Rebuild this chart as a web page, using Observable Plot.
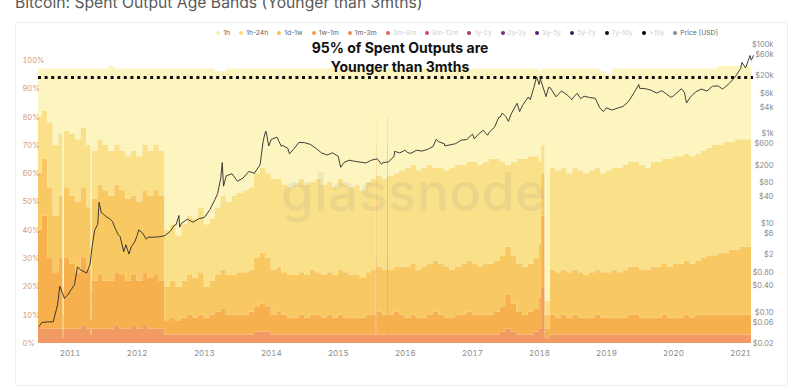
<!DOCTYPE html>
<html>
<head>
<meta charset="utf-8">
<script src="https://cdn.jsdelivr.net/npm/d3@7"></script>
<script src="https://cdn.jsdelivr.net/npm/@observablehq/plot@0.6"></script>
<style>
  body { margin: 0; background: #fff; font-family: Inter, "Noto Sans", sans-serif; }
  #wrap { position: relative; width: 800px; height: 389px; overflow: hidden; background: #fff; }
  .abs { position: absolute; left: 0; top: 0; }
  #title { position: absolute; left: 15px; top: -5px; font-size: 15.7px; line-height: 16px; color: #5a5a5a; white-space: nowrap; }
  #card { position: absolute; left: 15px; top: 22px; width: 771px; height: 362px; border: 1px solid #ededed; border-radius: 3px; }
  #legend { position: absolute; right: 82px; top: 29px; display: flex; gap: 9px; font-size: 6.8px; line-height: 8px; white-space: nowrap; }
  #legend .it { display: flex; align-items: center; gap: 3px; }
  #legend .dot { width: 4px; height: 4px; border-radius: 50%; }
  #watermark { position: absolute; left: 281px; top: 160px; font-size: 53px; font-weight: 500; color: rgba(140,140,140,0.13); letter-spacing: 0.5px; }
  #note { position: absolute; left: 250px; width: 300px; top: 38px; text-align: center; font-size: 14px; font-weight: 700; line-height: 19px; color: #111; }
</style>
</head>
<body>
<div id="wrap">
  <div id="title">Bitcoin: Spent Output Age Bands (Younger than 3mths)</div>
  <div id="card"></div>
  <div id="legend"></div>
  <div id="chart" class="abs"></div>
  <div id="watermark">glassnode</div>
  <div id="price" class="abs"></div>
  <div id="note">95% of Spent Outputs are<br>Younger than 3mths</div>
</div>
<script>
// ---------- data ----------
const bands = ["1m-3m", "1w-1m", "1d-1w", "1h-24h", "1h"]; // stacked bottom -> top
const bandColors = ["#f29a63", "#f7b04e", "#f8c862", "#f9e089", "#fcf5c0"];

const monthStart = "2010-07-01";
const monthEnd = "2021-04-01";   // exclusive; monthly rows Jul 2010 .. Mar 2021

// share (%) of spent outputs per band, one value per month
const share1m3m = [6,5,5,5,5,5,
  5,5,6,5,5,5,5,5,6,5,5,6,
  5,6,5,5,5,3,3,3,3,3,3,3,
  3,3,3,3,3,3,3,3,3,4,4,4,
  3,3,3,3,3,3,3,3,3,3,3,3,
  3,3,3,3,3,3,3,3,3,3,3,3,
  3,3,3,3,3,3,3,3,3,3,3,3,
  3,3,3,3,3,4,5,4,3,3,3,4,
  5,2,3,3,3,3,3,3,3,3,3,3,
  3,3,3,3,3,3,3,3,3,3,3,3,
  3,3,3,3,3,3,3,3,3,3,3,3,
  3,3,3];
const share1w1m = [34,40,25,20,25,25,
  23,20,24,21,17,19,17,17,19,19,17,18,
  17,19,18,19,17,5,6,5,6,7,6,7,
  6,7,8,9,7,7,7,7,8,9,10,9,
  7,8,7,6,6,7,6,7,7,6,7,6,
  7,6,6,6,6,7,7,8,7,7,8,7,
  6,7,6,6,7,8,7,6,6,7,7,8,
  7,7,7,7,8,9,12,10,8,7,8,8,
  11,3,7,6,7,6,7,6,6,6,7,6,
  6,6,6,6,7,7,6,6,6,6,7,6,
  6,6,7,6,7,7,7,7,7,7,7,7,
  7,7,7];
const share1d1w = [20,20,25,20,22,25,
  24,25,25,22,29,32,32,30,31,30,29,28,
  28,29,29,30,30,12,13,12,13,14,14,15,
  11,12,13,14,14,14,15,15,15,17,18,17,
  16,16,15,15,15,15,15,16,15,15,15,15,
  16,16,15,15,14,15,16,16,16,16,16,17,
  18,18,17,18,18,18,18,18,17,17,18,18,
  18,17,18,18,18,18,17,17,17,17,17,18,
  19,5,16,16,16,16,16,16,15,16,16,16,
  16,17,16,17,17,17,17,17,18,18,18,18,
  19,19,19,19,19,20,21,21,22,22,23,23,
  24,24,24];
const share1h24h = [20,17,23,25,22,20,
  22,22,21,22,17,16,16,16,14,14,15,16,
  16,16,16,16,16,20,20,18,20,21,21,23,
  22,22,24,26,26,28,28,29,29,30,30,30,
  32,31,31,31,32,33,32,31,33,32,32,31,
  32,31,31,32,31,32,32,32,32,33,33,34,
  35,35,35,35,35,33,34,34,36,36,35,35,
  36,36,36,37,36,33,29,33,37,38,38,36,
  29,5,36,36,36,35,36,36,36,36,36,35,
  36,36,37,37,37,37,37,36,37,37,37,38,
  38,38,38,38,38,38,38,39,38,39,38,39,
  38,38,39];
const share1h = [17,15,19,27,23,22,
  23,25,21,27,29,25,27,30,27,29,31,29,
  31,27,29,27,29,57,55,59,55,52,53,49,
  55,53,48,44,47,45,44,43,42,37,35,37,
  39,39,41,42,41,39,41,40,39,41,40,42,
  39,41,42,41,43,40,39,38,39,38,37,36,
  35,34,36,35,34,35,35,36,35,34,34,33,
  33,34,33,32,32,33,34,33,32,32,31,31,
  32,82,35,36,35,37,35,36,37,36,35,36,
  34,35,35,34,33,33,34,35,33,33,32,32,
  31,31,30,31,30,29,28,27,28,27,27,26,
  26,26,25];

// short one-day spikes
const spikeDates  = ["2010-11-24", "2011-04-26", "2015-07-27", "2015-09-26", "2018-01-13"];
const spike1m3m   = [2, 3, 30, 30, 20];
const spike1w1m   = [3, 5, 30, 30, 25];
const spike1d1w   = [5, 10, 10, 10, 15];
const spike1h24h  = [10, 15, 10, 10, 10];
const spike1h     = [77, 64, 17, 17, 27];

// BTC price (USD)
const priceDates = ["2010-07-17","2010-08-01","2010-09-01","2010-10-01","2010-10-25","2010-11-06","2010-11-20","2010-12-01","2010-12-20",
"2011-01-01","2011-01-25","2011-02-10","2011-03-01","2011-04-01","2011-04-20","2011-05-01","2011-05-15","2011-06-01","2011-06-08","2011-06-20",
"2011-07-01","2011-07-20","2011-08-01","2011-08-20","2011-09-01","2011-09-20","2011-10-01","2011-10-20","2011-11-01","2011-11-18","2011-12-01","2011-12-20",
"2012-01-01","2012-01-10","2012-02-01","2012-02-20","2012-03-01","2012-04-01","2012-05-01","2012-06-01","2012-07-01","2012-07-20","2012-08-01","2012-08-16","2012-08-20",
"2012-09-01","2012-10-01","2012-11-01","2012-12-01","2013-01-01","2013-02-01","2013-03-01","2013-03-15","2013-04-01","2013-04-09","2013-04-16",
"2013-05-01","2013-06-01","2013-07-01","2013-08-01","2013-09-01","2013-10-01","2013-10-20","2013-11-01","2013-11-18","2013-11-30","2013-12-04","2013-12-18",
"2014-01-01","2014-02-01","2014-02-25","2014-03-01","2014-04-01","2014-04-10","2014-05-01","2014-06-01","2014-07-01","2014-08-01","2014-09-01","2014-10-01","2014-11-01","2014-12-01",
"2015-01-01","2015-01-14","2015-02-01","2015-03-01","2015-04-01","2015-05-01","2015-06-01","2015-07-01","2015-08-01","2015-08-25","2015-09-01","2015-10-01","2015-11-01","2015-11-04","2015-12-01",
"2016-01-01","2016-01-15","2016-02-01","2016-03-01","2016-04-01","2016-05-01","2016-06-01","2016-06-17","2016-07-01","2016-08-01","2016-08-03","2016-09-01","2016-10-01","2016-11-01","2016-12-01",
"2017-01-01","2017-01-11","2017-02-01","2017-03-01","2017-03-24","2017-04-01","2017-05-01","2017-05-25","2017-06-01","2017-06-12","2017-07-01","2017-07-16","2017-08-01","2017-09-01","2017-09-15",
"2017-10-01","2017-11-01","2017-11-12","2017-12-01","2017-12-17","2017-12-30","2018-01-06","2018-02-06","2018-02-20","2018-03-01","2018-04-01","2018-05-01","2018-06-01","2018-06-28",
"2018-07-01","2018-07-25","2018-08-14","2018-09-01","2018-10-01","2018-11-01","2018-11-25","2018-12-15","2019-01-01","2019-02-01","2019-03-01","2019-04-01","2019-05-01","2019-06-01","2019-06-26",
"2019-07-01","2019-08-01","2019-09-01","2019-10-01","2019-10-26","2019-11-01","2019-12-01","2019-12-18","2020-01-01","2020-02-01","2020-02-13","2020-03-01","2020-03-12","2020-04-01","2020-05-01",
"2020-06-01","2020-07-01","2020-08-01","2020-09-01","2020-09-23","2020-10-01","2020-11-01","2020-12-01","2021-01-01","2021-01-08","2021-01-27","2021-02-01","2021-02-21","2021-02-28","2021-03-12"];
const priceUSD = [0.05,0.06,0.062,0.062,0.15,0.39,0.28,0.21,0.25,
0.30,0.42,1.05,0.90,0.77,1.2,3.0,7.0,9.6,29.6,17.5,
16.1,13.7,13.0,11.0,8.2,5.6,5.0,2.3,3.3,2.05,3.0,3.9,
5.3,7.1,6.0,4.4,4.9,4.9,5.0,5.3,6.7,8.9,9.4,15.0,8.2,
10.2,12.4,10.6,12.6,13.5,20.4,34.5,47,104,230,68,
116,129,88,104,146,132,174,205,700,1130,1150,540,
760,850,530,565,480,360,450,650,640,590,480,380,340,380,
315,180,230,260,245,235,225,260,280,210,230,238,315,410,378,
434,380,372,432,417,452,530,760,675,605,545,572,610,730,755,
1000,780,985,1220,940,1080,1420,2400,2400,2950,2500,1930,2870,4900,3200,
4400,6750,5950,10900,19300,12900,17100,6900,11100,10900,6850,9250,7500,5900,
6350,8200,6200,7050,6600,6350,3900,3200,3850,3450,3800,4150,5350,8550,12900,
10600,10400,9600,8300,9250,9200,7500,6650,7200,9350,10350,8550,4970,6650,8850,
10200,9230,11800,11950,10250,10620,13750,18800,29400,40500,30400,33500,57500,45200,57300];

const pctTicks = [0,10,20,30,40,50,60,70,80,90,100];
const yearTicks = ["2011","2012","2013","2014","2015","2016","2017","2018","2019","2020","2021"];
const priceTicks = [0.02,0.06,0.1,0.4,0.8,2,6,10,40,80,200,600,1000,4000,8000,20000,60000,100000];
const thresholdPct = 94;
const xStart = "2010-07-13", xEnd = "2021-03-12";

const legendLabels = ["1h","1h-24h","1d-1w","1w-1m","1m-3m","3m-6m","6m-12m","1y-2y","2y-3y","3y-5y","5y-7y","7y-10y",">10y","Price [USD]"];
const legendColors = ["#fbf1a6","#f8de6e","#f5c054","#f4a03c","#ec8756","#e2655d","#d2495f","#b0336a","#80296f","#5a1f84","#3a1a6b","#121018","#000000","#8a8a8a"];
const legendActive = [true,true,true,true,true,false,false,false,false,false,false,false,false,true];

// ---------- build table ----------
const months = d3.utcMonth.range(new Date(monthStart), new Date(monthEnd));
const series = [share1m3m, share1w1m, share1d1w, share1h24h, share1h];
const spikes = [spike1m3m, spike1w1m, spike1d1w, spike1h24h, spike1h];
const table = [];
months.forEach((d, i) => bands.forEach((b, j) => table.push({date: d, band: b, share: series[j][i]})));
spikeDates.forEach((s, i) => bands.forEach((b, j) => table.push({date: new Date(s), band: b, share: spikes[j][i]})));
table.sort((a, b) => a.date - b.date);

const prices = priceDates.map((d, i) => ({date: new Date(d), price: priceUSD[i]}));

const W = 800, H = 389;
const xDomain = [new Date(xStart), new Date(xEnd)];

const areaPlot = Plot.plot({
  width: W, height: H,
  marginLeft: 38, marginRight: 47, marginTop: 60, marginBottom: 46,
  style: {fontFamily: "Inter, sans-serif", background: "transparent", overflow: "visible"},
  x: {type: "utc", domain: xDomain, label: null},
  y: {domain: [0, 100], label: null},
  color: {domain: bands, range: bandColors},
  marks: [
    Plot.areaY(table, {x: "date", y: "share", fill: "band", order: bands, curve: "step-after", clip: true}),
    Plot.ruleY([thresholdPct], {stroke: "#111", strokeWidth: 3, strokeDasharray: "3,3.6"}),
    Plot.axisY(pctTicks, {tickFormat: d => d + "%", tickSize: 0, tickPadding: 0, textAnchor: "start", dx: -16, fill: "#d49a78", fontSize: 7.5, label: null}),
    Plot.axisX(yearTicks.map(y => new Date(y + "-01-01")), {tickFormat: "%Y", tickSize: 0, tickPadding: 7, fill: "#8c8c8c", fontSize: 8, label: null})
  ]
});
document.getElementById("chart").appendChild(areaPlot);

const fmtPrice = p => p >= 1000 ? "$" + (p / 1000) + "k" : p >= 1 ? "$" + p : "$" + p.toFixed(2);

const pricePlot = Plot.plot({
  width: W, height: H,
  marginLeft: 38, marginRight: 47, marginTop: 44.3, marginBottom: 45.7,
  style: {fontFamily: "Inter, sans-serif", background: "transparent", overflow: "visible"},
  x: {type: "utc", domain: xDomain, axis: null, label: null},
  y: {type: "log", domain: [0.02, 100000], axis: null, label: null},
  marks: [
    Plot.lineY(prices, {x: "date", y: "price", stroke: "#2a2a2a", strokeWidth: 0.9}),
    // right-hand price axis labels, right-aligned like the reference
    Plot.text(priceTicks, {y: d => d, text: fmtPrice, frameAnchor: "right", textAnchor: "end", dx: 20, fill: "#8a8a8a", fontSize: 7.5})
  ]
});
document.getElementById("price").appendChild(pricePlot);

// legend
const lg = document.getElementById("legend");
legendLabels.forEach((l, i) => {
  const it = document.createElement("div");
  it.className = "it";
  it.innerHTML = `<span class="dot" style="background:${legendColors[i]}"></span><span style="color:${legendActive[i] ? '#666' : '#cfcfcf'}">${l.replace(">", "&gt;")}</span>`;
  lg.appendChild(it);
});
</script>
</body>
</html>
